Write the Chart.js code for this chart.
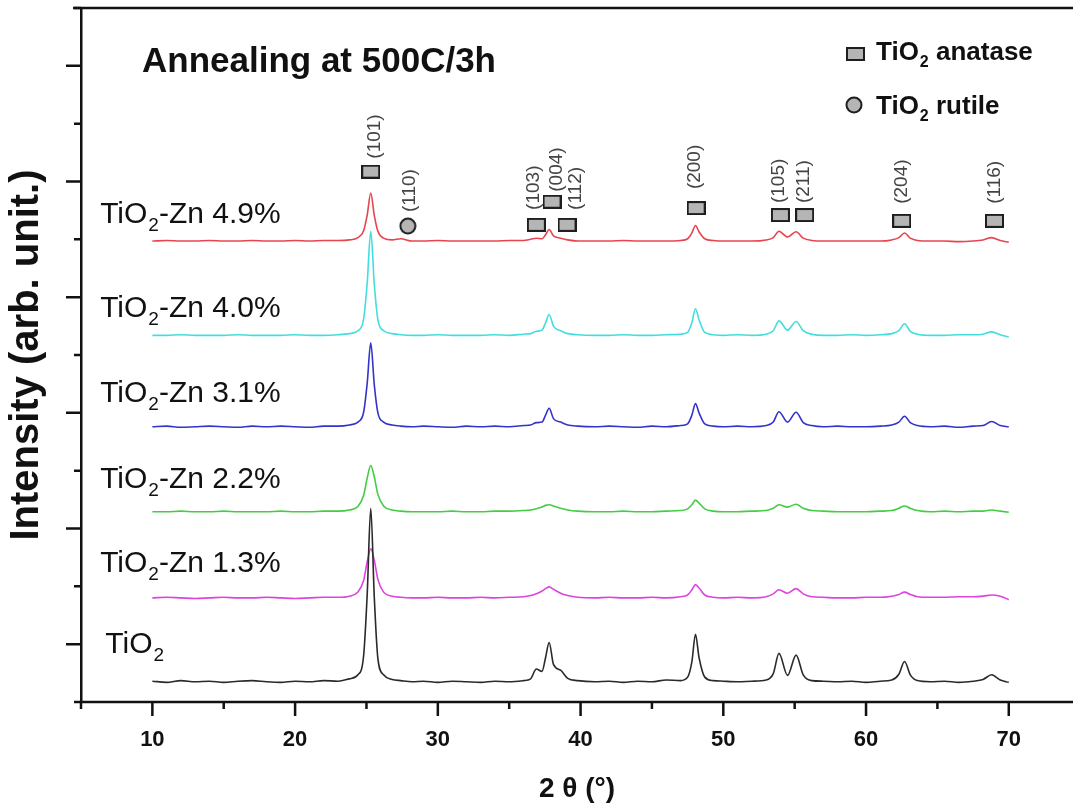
<!DOCTYPE html>
<html>
<head>
<meta charset="utf-8">
<title>XRD TiO2-Zn</title>
<script src="https://cdn.jsdelivr.net/npm/chart.js@4.4.1/dist/chart.umd.min.js"></script>
<style>
  html, body { margin: 0; padding: 0; background: #fff; overflow: hidden; }
  #wrap { width: 1073px; height: 809px; }
  canvas { display: block; }
</style>
</head>
<body>
<div id="wrap"><canvas id="xrdChart"></canvas></div>
<script>
const FONT = "'Liberation Sans', Arial, sans-serif";

// 2 theta grid (denser around the anatase reflections)
const twoTheta = [
  10, 11, 12, 13, 14, 15, 16, 17, 18, 19, 20, 21, 22, 23,
  23.8, 24.4, 24.8, 25.05, 25.3, 25.55, 25.8, 26.2, 26.8,
  27.4, 28.2, 29, 30, 31, 32, 33, 34, 35, 36,
  36.5, 36.9, 37.3, 37.55, 37.8, 38.1, 38.6, 39.1, 39.8,
  41, 42, 43, 44, 45, 46, 47,
  47.5, 47.8, 48.05, 48.3, 48.7, 49.3,
  50, 51, 52, 53,
  53.5, 53.9, 54.5, 55.1, 55.6, 56.2,
  57, 58, 59, 60, 61, 61.8,
  62.3, 62.7, 63.1, 63.6,
  64.5, 65.5, 66.5, 67.5, 68.2,
  68.8, 69.4, 70
];

// intensities above each pattern's own baseline (arb. units)
const tio2 = [
  0.01, -0.01, 0.02, 0.00, 0.01, -0.01, 0.01, 0.02, 0.00, -0.01, 0.01, 0.00, 0.02, 0.01,
  0.05, 0.12, 0.45, 1.50, 3.00, 1.45, 0.40, 0.12, 0.04,
  0.02, 0.00, 0.01, -0.01, 0.01, 0.00, -0.01, 0.01, 0.00, 0.02,
  0.05, 0.22, 0.18, 0.42, 0.68, 0.30, 0.20, 0.06, 0.02,
  0.00, 0.01, -0.01, 0.01, 0.00, 0.03, 0.02,
  0.08, 0.35, 0.82, 0.42, 0.08, 0.02,
  0.01, 0.00, 0.01, 0.03,
  0.14, 0.49, 0.11, 0.46, 0.12, 0.02,
  0.01, 0.00, 0.01, -0.01, 0.01, 0.03,
  0.13, 0.35, 0.12, 0.02,
  0.00, 0.01, -0.01, 0.01, 0.04,
  0.12, 0.03, -0.01
];
const zn13 = [
  0.00, 0.01, 0.00, -0.01, 0.00, 0.01, 0.00, 0.00, 0.01, 0.00, -0.01, 0.00, 0.01, 0.01,
  0.03, 0.10, 0.30, 0.62, 0.85, 0.65, 0.32, 0.10, 0.03,
  0.01, 0.00, 0.00, 0.01, 0.00, 0.00, 0.01, 0.00, 0.01, 0.02,
  0.04, 0.07, 0.12, 0.16, 0.19, 0.15, 0.08, 0.04, 0.01,
  0.00, 0.01, 0.00, 0.00, 0.01, 0.00, 0.02,
  0.05, 0.14, 0.23, 0.17, 0.05, 0.01,
  0.00, 0.01, 0.00, 0.02,
  0.07, 0.14, 0.08, 0.16, 0.07, 0.02,
  0.01, 0.00, 0.00, 0.01, 0.01, 0.03,
  0.06, 0.10, 0.06, 0.02,
  0.01, 0.01, 0.02, 0.02, 0.03,
  0.05, 0.03, -0.03
];
const zn22 = [
  0.00, 0.00, 0.01, 0.00, 0.00, 0.01, 0.00, 0.00, 0.00, 0.01, 0.00, 0.00, 0.01, 0.01,
  0.03, 0.09, 0.28, 0.58, 0.80, 0.60, 0.30, 0.10, 0.03,
  0.01, 0.00, 0.00, 0.00, 0.01, 0.00, 0.00, 0.01, 0.01, 0.02,
  0.03, 0.05, 0.08, 0.11, 0.12, 0.10, 0.06, 0.03, 0.01,
  0.00, 0.00, 0.01, 0.00, 0.00, 0.01, 0.02,
  0.05, 0.12, 0.20, 0.15, 0.05, 0.01,
  0.00, 0.00, 0.01, 0.02,
  0.06, 0.12, 0.08, 0.13, 0.06, 0.02,
  0.01, 0.00, 0.00, 0.00, 0.01, 0.02,
  0.06, 0.10, 0.06, 0.02,
  0.00, 0.01, 0.00, 0.01, 0.01,
  0.03, 0.01, -0.01
];
const zn31 = [
  0.00, 0.01, -0.01, 0.00, 0.01, 0.00, -0.01, 0.01, 0.00, 0.01, 0.00, -0.01, 0.01, 0.01,
  0.03, 0.08, 0.25, 0.75, 1.45, 0.72, 0.24, 0.08, 0.03,
  0.01, 0.00, 0.01, 0.00, -0.01, 0.01, 0.00, 0.01, 0.00, 0.02,
  0.03, 0.07, 0.08, 0.20, 0.32, 0.14, 0.08, 0.03, 0.01,
  0.00, 0.01, 0.00, -0.01, 0.01, 0.00, 0.02,
  0.05, 0.20, 0.40, 0.24, 0.05, 0.01,
  0.00, 0.01, 0.00, 0.02,
  0.08, 0.26, 0.08, 0.25, 0.07, 0.02,
  0.00, 0.01, 0.00, 0.00, 0.01, 0.03,
  0.08, 0.18, 0.07, 0.02,
  0.00, 0.01, -0.01, 0.01, 0.02,
  0.09, 0.02, 0.00
];
const zn40 = [
  0.00, 0.00, 0.01, 0.00, 0.00, 0.00, 0.01, 0.00, 0.00, 0.00, 0.01, 0.00, 0.00, 0.01,
  0.03, 0.08, 0.28, 0.90, 1.80, 0.88, 0.27, 0.08, 0.03,
  0.01, 0.00, 0.00, 0.01, 0.00, 0.00, 0.00, 0.01, 0.00, 0.02,
  0.03, 0.07, 0.09, 0.22, 0.36, 0.16, 0.08, 0.03, 0.01,
  0.00, 0.00, 0.01, 0.00, 0.00, 0.01, 0.02,
  0.05, 0.22, 0.46, 0.27, 0.05, 0.01,
  0.00, 0.01, 0.00, 0.02,
  0.08, 0.25, 0.09, 0.24, 0.08, 0.02,
  0.00, 0.00, 0.01, 0.00, 0.01, 0.03,
  0.08, 0.20, 0.07, 0.02,
  0.00, 0.00, 0.01, 0.01, 0.02,
  0.06, 0.01, -0.03
];
const zn49 = [
  0.00, 0.01, 0.00, 0.00, 0.01, 0.00, 0.00, 0.01, 0.00, 0.00, 0.01, 0.00, 0.01, 0.01,
  0.02, 0.06, 0.18, 0.45, 0.83, 0.44, 0.17, 0.05, 0.02,
  0.04, 0.00, 0.00, 0.01, 0.00, 0.00, 0.00, 0.00, 0.01, 0.01,
  0.03, 0.05, 0.04, 0.11, 0.20, 0.09, 0.05, 0.02, 0.00,
  0.00, 0.00, 0.01, 0.00, 0.00, 0.00, 0.01,
  0.04, 0.14, 0.27, 0.16, 0.04, 0.01,
  0.00, 0.00, 0.00, 0.02,
  0.06, 0.17, 0.07, 0.16, 0.05, 0.01,
  0.00, 0.00, 0.00, 0.00, 0.00, 0.02,
  0.06, 0.14, 0.05, 0.01,
  0.00, 0.00, -0.01, 0.00, 0.02,
  0.06, 0.01, -0.02
];

const sampleNames = ["TiO2", "TiO2-Zn 1.3%", "TiO2-Zn 2.2%", "TiO2-Zn 3.1%", "TiO2-Zn 4.0%", "TiO2-Zn 4.9%"];
const patterns = [tio2, zn13, zn22, zn31, zn40, zn49];
const offsets = [0.35, 1.80, 3.29, 4.76, 6.34, 7.97];
const lineColors = ["#2a2a2a", "#dd44dd", "#44cc44", "#3333cc", "#44dddd", "#e8444e"];

// axis ticks (2 theta every 5 deg, intensity every unit)
const xTicks = [5, 10, 15, 20, 25, 30, 35, 40, 45, 50, 55, 60, 65, 70];
const yTicks = [0, 1, 2, 3, 4, 5, 6, 7, 8, 9, 10, 11, 12];

// reflection markers: anatase (square) and rutile (circle)
const anataseHkl = ["(101)", "(103)", "(004)", "(112)", "(200)", "(105)", "(211)", "(204)", "(116)"];
const anataseAt = [25.3, 36.9, 38.0, 39.05, 48.1, 54.0, 55.7, 62.5, 69.0];
const anataseY = [9.17, 8.25, 8.65, 8.25, 8.54, 8.42, 8.42, 8.32, 8.32];
const rutileHkl = ["(110)"];
const rutileAt = [27.9];
const rutileY = [8.23];

// label placement (pixels): horizontal nudge and gap above the marker
const hklNudge = [4, -3, 5, 9, -1, -2, -1, 0, 0];
const hklGap = [6, 8, 3, 8, 12, 5, 5, 10, 10];
const labelLift = [0.50, 0.45, 0.41, 0.43, 0.32, 0.32];
const labelAt = [6.7, 6.34, 6.34, 6.34, 6.34, 6.34];

function markerImage(shape) {
  const c = document.createElement("canvas");
  const g = c.getContext("2d");
  if (shape === "rect") {
    c.width = 19; c.height = 14;
    g.fillStyle = "#b5b5b5";
    g.fillRect(1, 1, 17, 12);
    g.strokeStyle = "#1e1e1e";
    g.lineWidth = 2;
    g.strokeRect(1, 1, 17, 12);
  } else {
    c.width = 18; c.height = 18;
    g.beginPath();
    g.arc(9, 9, 7.5, 0, Math.PI * 2);
    g.fillStyle = "#b5b5b5";
    g.fill();
    g.strokeStyle = "#1e1e1e";
    g.lineWidth = 2;
    g.stroke();
  }
  return c;
}
const rectImg = markerImage("rect");
const circleImg = markerImage("circle");

function drawFormula(ctx, x, y, rest, size, weight) {
  ctx.textAlign = "left";
  ctx.textBaseline = "alphabetic";
  ctx.font = weight + " " + size + "px " + FONT;
  ctx.fillText("TiO", x, y);
  let w = ctx.measureText("TiO").width;
  ctx.font = weight + " " + Math.round(size * 0.62) + "px " + FONT;
  ctx.fillText("2", x + w + 1, y + size * 0.27);
  w += ctx.measureText("2").width + 1;
  ctx.font = weight + " " + size + "px " + FONT;
  ctx.fillText(rest, x + w, y);
}

const datasets = patterns.map((p, i) => ({
  label: sampleNames[i],
  data: twoTheta.map((t, k) => ({ x: t, y: offsets[i] + p[k] })),
  borderColor: lineColors[i],
  borderWidth: 1.6,
  pointRadius: 0,
  fill: false,
  cubicInterpolationMode: "monotone",
  order: 2
}));

datasets.push({
  label: "anatase",
  data: anataseAt.map((t, k) => ({ x: t, y: anataseY[k] })),
  showLine: false,
  pointStyle: rectImg,
  pointRadius: 8,
  order: 0
});
datasets.push({
  label: "rutile",
  data: rutileAt.map((t, k) => ({ x: t, y: rutileY[k] })),
  showLine: false,
  pointStyle: circleImg,
  pointRadius: 8,
  order: 0
});

const decor = {
  id: "decor",
  afterDraw(chart) {
    const ctx = chart.ctx;
    const area = chart.chartArea;
    const xs = chart.scales.x;
    const ys = chart.scales.y;
    ctx.save();

    // top and bottom frame lines, running off the right edge
    ctx.strokeStyle = "#111";
    ctx.lineWidth = 2.5;
    ctx.beginPath();
    ctx.moveTo(area.left - 8, area.top);
    ctx.lineTo(chart.width, area.top);
    ctx.moveTo(area.left, area.bottom);
    ctx.lineTo(chart.width, area.bottom);
    ctx.stroke();

    // outward tick marks, long on major ticks
    ctx.beginPath();
    xs.ticks.forEach(t => {
      const px = xs.getPixelForValue(t.value);
      const len = t.value % 10 === 0 ? 14 : 7;
      ctx.moveTo(px, area.bottom);
      ctx.lineTo(px, area.bottom + len);
    });
    ys.ticks.forEach(t => {
      const py = ys.getPixelForValue(t.value);
      const len = t.value % 2 === 1 ? 15 : 7;
      ctx.moveTo(area.left - len, py);
      ctx.lineTo(area.left, py);
    });
    ctx.stroke();

    // Miller indices above the markers
    ctx.fillStyle = "#444";
    ctx.font = "19px " + FONT;
    ctx.textAlign = "left";
    ctx.textBaseline = "middle";
    const anaMeta = chart.getDatasetMeta(patterns.length);
    anaMeta.data.forEach((pt, k) => {
      ctx.save();
      ctx.translate(pt.x + hklNudge[k], pt.y - rectImg.height / 2 - hklGap[k]);
      ctx.rotate(-Math.PI / 2);
      ctx.fillText(anataseHkl[k], 0, 0);
      ctx.restore();
    });
    const rutMeta = chart.getDatasetMeta(patterns.length + 1);
    rutMeta.data.forEach((pt, k) => {
      ctx.save();
      ctx.translate(pt.x + 2, pt.y - circleImg.height / 2 - 5);
      ctx.rotate(-Math.PI / 2);
      ctx.fillText(rutileHkl[k], 0, 0);
      ctx.restore();
    });

    // sample names
    ctx.fillStyle = "#111";
    sampleNames.forEach((name, i) => {
      const px = xs.getPixelForValue(labelAt[i]);
      const py = ys.getPixelForValue(offsets[i] + labelLift[i]);
      drawFormula(ctx, px, py, name.slice(4), 30, "normal");
    });

    // heading
    ctx.font = "bold 35px " + FONT;
    ctx.textAlign = "left";
    ctx.textBaseline = "alphabetic";
    ctx.fillText("Annealing at 500C/3h", 142, 72);

    // phase key
    ctx.drawImage(rectImg, 846, 47);
    drawFormula(ctx, 876, 60, " anatase", 26, "bold");
    ctx.drawImage(circleImg, 845, 96);
    drawFormula(ctx, 876, 114, " rutile", 26, "bold");

    ctx.restore();
  }
};

new Chart(document.getElementById("xrdChart"), {
  type: "line",
  data: { datasets: datasets },
  options: {
    responsive: true,
    maintainAspectRatio: false,
    animation: false,
    devicePixelRatio: 1,
    layout: { autoPadding: false, padding: { top: 8, left: 0, right: 0, bottom: 0 } },
    plugins: {
      legend: { display: false },
      tooltip: { enabled: false }
    },
    scales: {
      x: {
        type: "linear",
        position: "bottom",
        min: 5,
        max: 74.5,
        afterBuildTicks(scale) { scale.ticks = xTicks.map(v => ({ value: v })); },
        ticks: {
          autoSkip: false,
          maxRotation: 0,
          padding: 0,
          color: "#111",
          font: { family: FONT, size: 22, weight: "bold" },
          callback: v => (v % 10 === 0 ? v : "")
        },
        grid: {
          display: true,
          drawOnChartArea: false,
          drawTicks: true,
          tickLength: 25,
          tickColor: "rgba(0,0,0,0)"
        },
        border: { display: false },
        title: {
          display: true,
          text: "2 \u03b8 (\u00b0)",
          color: "#111",
          font: { family: FONT, size: 28, weight: "bold" },
          padding: { top: 0, bottom: 3 }
        },
        afterFit(scale) {
          scale.height = 107;
          scale.paddingRight = 0;
        }
      },
      y: {
        type: "linear",
        min: 0,
        max: 12,
        afterBuildTicks(scale) { scale.ticks = yTicks.map(v => ({ value: v })); },
        ticks: { display: false },
        grid: { display: false, drawTicks: false },
        border: { display: true, color: "#111", width: 2.5 },
        title: {
          display: true,
          text: "Intensity (arb. unit.)",
          color: "#111",
          font: { family: FONT, size: 40, weight: "bold" },
          padding: { top: 3, bottom: 0 }
        },
        afterFit(scale) { scale.width = 81; }
      }
    }
  },
  plugins: [decor]
});
</script>
</body>
</html>
